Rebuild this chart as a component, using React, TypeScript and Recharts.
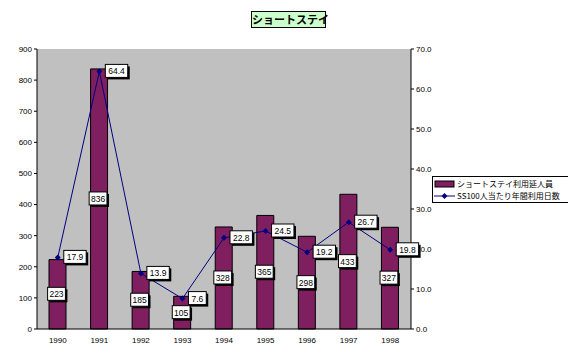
import {
  ComposedChart,
  Bar,
  Line,
  XAxis,
  YAxis,
  CartesianGrid,
  LabelList
} from "recharts"

const years = ["1990", "1991", "1992", "1993", "1994", "1995", "1996", "1997", "1998"]
const users = [223, 836, 185, 105, 328, 365, 298, 433, 327]
const days = [17.9, 64.4, 13.9, 7.6, 22.8, 24.5, 19.2, 26.7, 19.8]
const leftTicks = [0, 100, 200, 300, 400, 500, 600, 700, 800, 900]
const rightTicks = [0, 10, 20, 30, 40, 50, 60, 70]

const barName = "ショートステイ利用延人員"
const lineName = "SS100人当たり年間利用日数"

const data = years.map((y, i) => ({ year: y, users: users[i], days: days[i] }))

const FONT = "'Liberation Sans', Arial, sans-serif"
const JP = "'Noto Sans CJK JP', sans-serif"

function boxLabel(x: number, y: number, text: string) {
  const w = text.length * 4.6 + 4
  const h = 13
  return (
    <g>
      <rect x={x + 2} y={y + 2} width={w} height={h} fill="#000" />
      <rect x={x} y={y} width={w} height={h} fill="#fff" stroke="#000" strokeWidth={1} />
      <text x={x + w / 2} y={y + 10} textAnchor="middle" fontSize={8.5} fontFamily={FONT} fill="#000">
        {text}
      </text>
    </g>
  )
}

const BarLabel = (props: any) => {
  const { x, y, width, height, value } = props
  const text = String(value)
  const w = text.length * 4.6 + 4
  return boxLabel(x + width / 2 - w / 2 - 1, y + height / 2 - 7, text)
}

const LineLabel = (props: any) => {
  const { x, y, value } = props
  return boxLabel(x + 6, y - 7, Number(value).toFixed(1))
}

const Diamond = (props: any) => {
  const { cx, cy } = props
  return <path d={`M${cx},${cy - 3}L${cx + 3},${cy}L${cx},${cy + 3}L${cx - 3},${cy}Z`} fill="#000080" />
}

export default function App() {
  return (
    <div style={{ position: "relative", width: 576, height: 357, background: "#fff", margin: -8 }}>
      <div style={{
        position: "absolute", left: 251, top: 11, width: 75, height: 17, boxSizing: "border-box",
        border: "1px solid #000", background: "#ccffcc", textAlign: "center", whiteSpace: "nowrap",
        fontFamily: JP, fontSize: 11, lineHeight: "15px", fontWeight: 700
      }}>
        ショートステイ
      </div>
      <div style={{
        position: "absolute", left: 432, top: 176, width: 141, height: 27, boxSizing: "border-box",
        border: "1px solid #000", background: "#fff", padding: "1px 0", whiteSpace: "nowrap",
        fontFamily: JP, fontSize: 8, lineHeight: "12px", color: "#000", zIndex: 1
      }}>
        <div style={{ display: "flex", alignItems: "center" }}>
          <svg width={24} height={12}>
            <rect x={2} y={3} width={19} height={6} fill="#7f1f5f" stroke="#000" strokeWidth={1} />
          </svg>
          <span>{barName}</span>
        </div>
        <div style={{ display: "flex", alignItems: "center" }}>
          <svg width={24} height={12}>
            <line x1={1} y1={6} x2={22} y2={6} stroke="#000080" />
            <path d="M11.5,3L14.5,6L11.5,9L8.5,6Z" fill="#000080" />
          </svg>
          <span>{lineName}</span>
        </div>
      </div>
      <ComposedChart width={576} height={357} data={data}
        margin={{ top: 49, right: 125, bottom: 10, left: 0 }}>
        <CartesianGrid fill="#c0c0c0" horizontal={false} vertical={false} stroke="none" />
        <XAxis dataKey="year" height={18} tickLine={false} stroke="#000"
          tick={{ fontSize: 8, fontFamily: FONT, fill: "#000" }} />
        <YAxis yAxisId="l" domain={[0, 900]} ticks={leftTicks} width={37} stroke="#000"
          tickSize={3} interval={0}
          tick={{ fontSize: 8, fontFamily: FONT, fill: "#000" }} />
        <YAxis yAxisId="r" orientation="right" domain={[0, 70]} ticks={rightTicks} width={40}
          stroke="#000" tickSize={3} interval={0} tickFormatter={(v: number) => v.toFixed(1)}
          tick={{ fontSize: 8, fontFamily: FONT, fill: "#000" }} />
        <Bar yAxisId="l" dataKey="users" name={barName} fill="#7f1f5f" stroke="#000"
          strokeWidth={1} barSize={17} isAnimationActive={false}>
          <LabelList dataKey="users" content={BarLabel} />
        </Bar>
        <Line yAxisId="r" dataKey="days" name={lineName} stroke="#000080" strokeWidth={1}
          dot={Diamond} activeDot={false} isAnimationActive={false}>
          <LabelList dataKey="days" content={LineLabel} />
        </Line>
      </ComposedChart>
    </div>
  )
}
